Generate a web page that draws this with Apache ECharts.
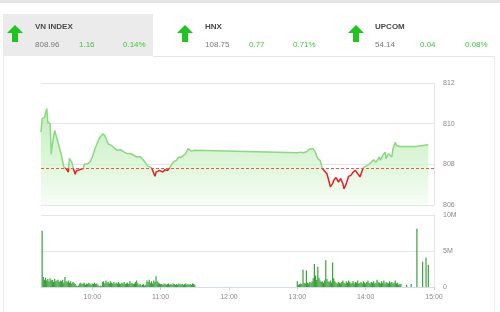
<!DOCTYPE html>
<html><head><meta charset="utf-8">
<script src="https://cdn.jsdelivr.net/npm/echarts@6/dist/echarts.min.js"></script>
<style>html,body{margin:0;padding:0;background:#fff}#c{width:500px;height:312px}</style>
</head><body><div id="c"></div>
<script>
// ---- header data ----
const indexNames = ['VN INDEX', 'HNX', 'UPCOM'];
const indexValues = ['808.96', '108.75', '54.14'];
const indexChanges = ['1.16', '0.77', '0.04'];
const indexPercents = ['0.14%', '0.71%', '0.08%'];

// ---- price (VN-Index intraday) ----
const referencePrice = 807.80;
const priceTimes = [
  '09:15','09:16','09:18','09:20','09:21','09:23','09:24','09:25','09:27','09:29',
  '09:31','09:33','09:35','09:37','09:39','09:40','09:42','09:43','09:45','09:46',
  '09:47','09:49','09:52','09:53','09:56','09:58','10:00','10:03','10:06','10:09',
  '10:11','10:12','10:14','10:17','10:20','10:22','10:25','10:28','10:30','10:34',
  '10:39','10:42','10:45','10:49','10:52','10:55','10:56','10:59','11:02','11:04',
  '11:06','11:08','11:11','11:14','11:16','11:18','11:20','11:22','11:24','11:27',
  '11:30',
  '13:00','13:03','13:05','13:08','13:10','13:12','13:14','13:16','13:18','13:20',
  '13:22','13:23','13:26','13:28','13:29','13:31','13:32','13:34','13:36','13:38',
  '13:40','13:41','13:43','13:45','13:47','13:49','13:51','13:53','13:55','13:57',
  '13:58','14:00','14:03','14:05','14:07','14:09','14:12','14:13','14:15','14:17',
  '14:18','14:20','14:23','14:24','14:26','14:27','14:30','14:44','14:45','14:55'
];
const priceValues = [
  809.58,810.25,810.30,810.75,810.07,810.00,808.50,809.00,809.67,809.27,
  808.85,808.44,807.87,807.80,807.62,808.29,808.11,807.87,807.51,807.67,
  807.62,807.74,807.79,808.00,808.03,808.11,808.36,808.85,809.26,809.50,
  809.42,809.50,809.00,808.93,808.77,808.69,808.72,808.60,808.55,808.52,
  808.36,808.39,808.20,807.90,807.84,807.41,807.62,807.70,807.62,807.74,
  807.70,807.84,808.11,808.20,808.36,808.33,808.44,808.52,808.77,808.65,
  808.69,
  808.57,808.60,808.57,808.62,808.72,808.77,808.77,808.57,808.28,808.20,
  807.79,807.70,807.54,807.13,806.89,807.05,807.22,807.35,807.13,807.30,
  807.05,806.80,807.05,807.41,807.46,807.62,807.70,807.54,807.38,807.70,
  807.84,807.90,808.00,808.11,808.23,808.10,808.36,808.20,808.44,808.60,
  808.28,808.52,808.36,808.77,809.09,808.93,808.88,808.88,808.96,808.96
];

// ---- volume (millions of shares, one bar per minute) ----
const volMorningStart = '09:16';
const volMorning = [
  7.8,
  1.4,1.0,1.3,0.9,1.1,0.8,1.2,0.9,1.0,0.7,1.1,0.8,0.9,1.0,0.7,0.9,0.8,1.0,0.6,1.4,0.8,
  0.7,0.9,0.6,0.8,0.5,0.7,0.6,0.4,
  0.2,0.1,0.2,
  0.5,0.6,0.4,0.5,0.6,0.3,0.5,0.4,0.6,0.5,0.3,0.5,0.4,0.6,0.4,0.5,0.3,
  0.1,0.2,0.1,
  0.7,0.8,0.5,0.9,0.6,0.7,0.5,0.8,0.6,0.5,0.7,0.4,0.6,0.5,0.7,0.5,0.4,0.6,0.5,0.7,0.4,0.5,0.6,0.4,0.8,0.5,0.6,0.4,0.5,0.7,0.9,0.5,
  0.3,0.4,0.2,0.3,0.4,0.2,0.3,
  0.9,0.7,1.0,0.6,0.8,0.5,0.9,0.7,1.5,0.8,0.6,0.5,0.4,
  0.4,0.3,0.5,0.4,0.3,0.4,0.5,0.3,0.4,0.3,0.5,0.4,0.3,0.4,0.3,0.5,0.4,0.3,0.4,0.3,0.4,0.5,0.3,0.4,0.3,0.4,0.3,0.5,0.4,0.3
];
const volAfternoonStart = '13:00';
const volAfternoon = [
  0.8,0.3,0.4,0.5,0.4,2.4,0.6,0.5,2.3,0.6,
  0.5,0.7,0.6,0.8,1.2,3.2,1.6,1.0,2.8,1.3,
  0.9,0.7,0.8,0.6,0.9,3.7,1.1,0.8,0.7,0.9,
  0.6,3.4,1.2,0.8,0.6,0.5,0.7,0.6,
  0.5,0.7,0.9,0.6,0.5,0.8,0.6,0.9,0.7,0.5,0.6,0.8,0.5,0.7,0.6,0.9,0.5,0.6,0.7,0.5,
  0.8,0.6,0.5,0.7,0.9,0.6,0.5,0.7,0.6,0.8,0.5,0.6,1.0,0.7,0.6,0.5,0.8,0.6,0.9,0.5,
  0.7,0.6,0.5,0.8,0.6,0.7,0.5,0.6,0.9,0.5,0.6,
  0.3,0.4
];
const volLateTimes = ['14:31','14:36','14:40','14:45','14:50','14:53','14:55'];
const volLate = [0.4,0.3,0.4,8.1,3.5,4.1,3.1];

// ---- axes ----
const timeStart = '09:15';
const timeEnd = '15:00';
const timeTicks = ['10:00','11:00','12:00','13:00','14:00','15:00'];
const priceMin = 806, priceMax = 812, priceStep = 2;
const volMin = 0, volMax = 10, volStep = 5;

// ---- helpers ----
const toMin = s => { const [h, m] = s.split(':').map(Number); return h * 60 + m; };
const fmtTime = v => { const h = Math.floor(v / 60), m = Math.round(v % 60); return (h < 10 ? '0' : '') + h + ':' + (m < 10 ? '0' : '') + m; };

const priceData = priceTimes.map((t, i) => [toMin(t), priceValues[i]]);
const volData = [];
volMorning.forEach((v, i) => volData.push([toMin(volMorningStart) + i, v]));
volAfternoon.forEach((v, i) => volData.push([toMin(volAfternoonStart) + i, v]));
volLateTimes.forEach((t, i) => volData.push([toMin(t), volLate[i]]));

const FONT = "'Liberation Sans', Arial, sans-serif";
const GREEN_TXT = '#3cc83c';
const LINE_GREEN = '#88da7e';
const LINE_RED = '#ef1c1c';

// layout of the grids
const PG = { left: 41, right: 66, top: 83, height: 122 };
const VG = { left: 41, right: 66, top: 215, height: 72 };
const refOffset = (priceMax - referencePrice) / (priceMax - priceMin);

// ---- header graphics ----
const colX = [35, 205, 375];
const chgX = [79, 249, 420];
const pctX = [123, 293, 465];
const arrowX = [15, 185, 356];
const graphics = [
  { type: 'rect', shape: { x: 0, y: 0, width: 500, height: 3 }, style: { fill: '#e4e4e4' }, silent: true },
  { type: 'rect', shape: { x: 3, y: 14, width: 150, height: 42 }, style: { fill: '#ebebeb' }, silent: true },
  { type: 'line', shape: { x1: 153, y1: 56.5, x2: 495, y2: 56.5 }, style: { stroke: '#e6e6e6', lineWidth: 1 }, silent: true },
  { type: 'line', shape: { x1: 3.5, y1: 56, x2: 3.5, y2: 312 }, style: { stroke: '#ececec', lineWidth: 1 }, silent: true },
  { type: 'line', shape: { x1: 494.5, y1: 56, x2: 494.5, y2: 312 }, style: { stroke: '#ececec', lineWidth: 1 }, silent: true }
];
indexNames.forEach((name, i) => {
  const ax = arrowX[i];
  graphics.push({
    type: 'polygon', silent: true,
    shape: { points: [[ax, 25], [ax + 8, 33], [ax + 3, 33], [ax + 3, 42], [ax - 3, 42], [ax - 3, 33], [ax - 8, 33]] },
    style: { fill: '#1fc41f' }
  });
  graphics.push({ type: 'text', x: colX[i], y: 27, silent: true,
    style: { text: name, fill: '#4a4a4a', font: 'bold 8px ' + FONT, verticalAlign: 'middle' } });
  graphics.push({ type: 'text', x: colX[i], y: 45, silent: true,
    style: { text: indexValues[i], fill: '#7a7a7a', font: '8px ' + FONT, verticalAlign: 'middle' } });
  graphics.push({ type: 'text', x: chgX[i], y: 45, silent: true,
    style: { text: indexChanges[i], fill: GREEN_TXT, font: '8px ' + FONT, verticalAlign: 'middle' } });
  graphics.push({ type: 'text', x: pctX[i], y: 45, silent: true,
    style: { text: indexPercents[i], fill: GREEN_TXT, font: '8px ' + FONT, verticalAlign: 'middle' } });
});

const chart = echarts.init(document.getElementById('c'), null, { renderer: 'canvas', width: 500, height: 312 });
chart.setOption({
  animation: false,
  backgroundColor: '#ffffff',
  textStyle: { fontFamily: FONT },
  graphic: graphics,
  grid: [PG, VG],
  xAxis: [
    { type: 'value', gridIndex: 0, min: toMin(timeStart), max: toMin(timeEnd), show: false },
    { type: 'value', gridIndex: 1, min: toMin(timeStart), max: toMin(timeEnd),
      axisLine: { show: true, lineStyle: { color: '#d3dde9', width: 1 } },
      axisTick: { show: true, customValues: timeTicks.map(toMin), length: 3, lineStyle: { color: '#c8d2de' } },
      axisLabel: { show: true, customValues: timeTicks.map(toMin), formatter: fmtTime, fontSize: 7, color: '#8a8a8a', margin: 7, fontFamily: FONT },
      splitLine: { show: false } }
  ],
  yAxis: [
    { type: 'value', gridIndex: 0, position: 'right', min: priceMin, max: priceMax, interval: priceStep,
      axisLine: { show: true, lineStyle: { color: '#e6e6e6' } },
      axisTick: { show: false },
      axisLabel: { fontSize: 7, color: '#8a8a8a', margin: 9, fontFamily: FONT },
      splitLine: { show: true, lineStyle: { color: '#e6e6e6', width: 1 } } },
    { type: 'value', gridIndex: 1, position: 'right', min: volMin, max: volMax, interval: volStep,
      axisLine: { show: true, lineStyle: { color: '#e6e6e6' } },
      axisTick: { show: false },
      axisLabel: { fontSize: 7, color: '#8a8a8a', margin: 9, fontFamily: FONT,
        formatter: v => v === 0 ? '0' : v + 'M' },
      splitLine: { show: true, lineStyle: { color: '#e6e6e6', width: 1 } } }
  ],
  series: [
    {
      type: 'line', xAxisIndex: 0, yAxisIndex: 0, data: priceData,
      symbol: 'none',
      lineStyle: {
        width: 1.5,
        color: { type: 'linear', x: 0, y: PG.top, x2: 0, y2: PG.top + PG.height, global: true,
          colorStops: [
            { offset: 0, color: LINE_GREEN }, { offset: refOffset, color: LINE_GREEN },
            { offset: refOffset, color: LINE_RED }, { offset: 1, color: LINE_RED }
          ] }
      },
      areaStyle: {
        origin: 'start',
        color: { type: 'linear', x: 0, y: 105, x2: 0, y2: PG.top + PG.height, global: true,
          colorStops: [{ offset: 0, color: '#aae6a1' }, { offset: 0.5, color: '#caf1c4' }, { offset: 1, color: '#f4fcf3' }] }
      },
      markLine: {
        silent: true, symbol: 'none', label: { show: false },
        lineStyle: { color: '#ee5b3b', type: [3, 2], width: 1 },
        data: [{ yAxis: referencePrice }]
      }
    },
    {
      type: 'bar', xAxisIndex: 1, yAxisIndex: 1, data: volData,
      barWidth: 1.2, itemStyle: { color: '#38a238' }
    }
  ]
});
</script>
</body></html>
